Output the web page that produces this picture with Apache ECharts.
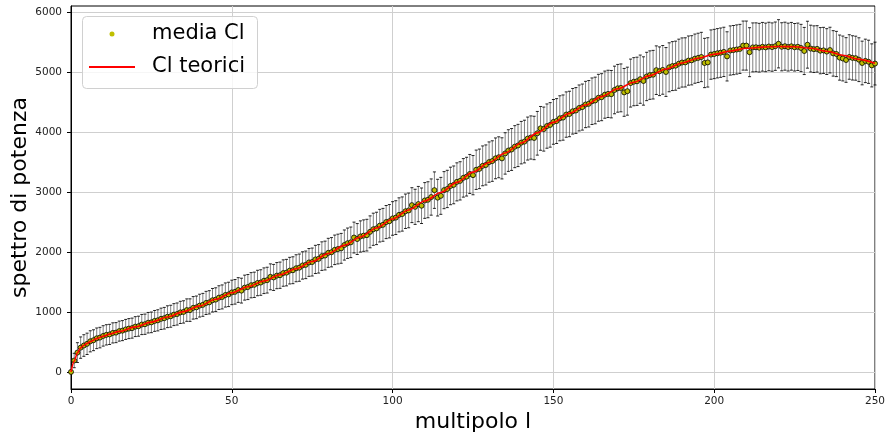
<!DOCTYPE html>
<html>
<head>
<meta charset="utf-8">
<script src="https://cdn.jsdelivr.net/npm/echarts@6/dist/echarts.min.js"></script>
<style>
  html, body { margin: 0; padding: 0; background: #fff; }
  #chart { width: 886px; height: 437px; }
</style>
</head>
<body>
<div id="chart"></div>
<script>
// Mean power spectrum per multipole l = 0..250
const clMean = [
  0, 190, 322, 405, 440, 468, 510, 528, 560, 572,
  600, 618, 625, 650, 655, 680, 688, 708, 722, 730,
  755, 762, 790, 795, 820, 826, 850, 860, 885, 895,
  920, 928, 955, 965, 992, 1000, 1030, 1030, 1068, 1076,
  1105, 1118, 1150, 1160, 1195, 1205, 1238, 1250, 1282, 1292,
  1325, 1335, 1365, 1355, 1405, 1415, 1445, 1452, 1482, 1490,
  1520, 1530, 1585, 1575, 1605, 1612, 1648, 1655, 1688, 1695,
  1728, 1738, 1775, 1785, 1825, 1832, 1875, 1885, 1930, 1940,
  1985, 1995, 2035, 2048, 2060, 2115, 2145, 2160, 2240, 2215,
  2258, 2272, 2280, 2335, 2378, 2392, 2438, 2452, 2498, 2512,
  2558, 2572, 2618, 2632, 2678, 2692, 2780, 2752, 2798, 2770,
  2858, 2870, 2915, 3030, 2905, 2935, 3030, 3050, 3100, 3118,
  3168, 3185, 3235, 3255, 3300, 3280, 3370, 3385, 3435, 3450,
  3498, 3515, 3560, 3578, 3560, 3642, 3690, 3708, 3755, 3775,
  3822, 3840, 3890, 3908, 3900, 3978, 4060, 4048, 4098, 4118,
  4168, 4182, 4228, 4240, 4290, 4300, 4345, 4358, 4400, 4415,
  4458, 4470, 4512, 4525, 4570, 4580, 4622, 4635, 4630, 4700,
  4728, 4735, 4660, 4680, 4815, 4838, 4845, 4880, 4850, 4925,
  4948, 4955, 5030, 5012, 5035, 5000, 5078, 5098, 5105, 5138,
  5158, 5160, 5190, 5195, 5222, 5235, 5250, 5150, 5160, 5290,
  5300, 5312, 5322, 5335, 5260, 5358, 5365, 5375, 5385, 5440,
  5440, 5330, 5410, 5412, 5405, 5420, 5410, 5425, 5415, 5430,
  5470, 5420, 5430, 5415, 5428, 5412, 5420, 5400, 5350, 5455,
  5390, 5380, 5385, 5355, 5360, 5340, 5365, 5310, 5300, 5240,
  5225, 5200, 5250, 5235, 5230, 5205, 5150, 5185, 5170, 5110,
  5140
];

// Standard deviation of the mean spectrum (error bar half-length)
const clSigma = [
  0, 120, 165, 178, 180, 178, 176, 174, 172, 171,
  170, 169, 168, 168, 167, 167, 167, 167, 167, 167,
  166, 167, 168, 169, 171, 172, 174, 176, 178, 180,
  182, 183, 183, 184, 185, 186, 187, 188, 188, 189,
  190, 191, 193, 194, 196, 197, 198, 200, 201, 203,
  204, 205, 206, 207, 208, 209, 210, 211, 212, 213,
  214, 215, 216, 217, 218, 219, 220, 221, 222, 224,
  225, 227, 228, 230, 232, 233, 235, 237, 238, 240,
  242, 244, 246, 248, 249, 251, 253, 255, 257, 258,
  260, 262, 264, 266, 268, 270, 272, 274, 276, 278,
  280, 282, 284, 285, 287, 289, 291, 293, 294, 296,
  298, 300, 302, 304, 306, 308, 309, 311, 313, 315,
  317, 319, 321, 323, 325, 327, 328, 330, 332, 334,
  336, 338, 340, 341, 343, 345, 347, 349, 350, 352,
  354, 356, 358, 360, 362, 364, 365, 367, 369, 371,
  373, 374, 375, 377, 378, 379, 380, 382, 383, 384,
  386, 387, 388, 389, 391, 392, 393, 394, 395, 397,
  398, 399, 399, 400, 400, 401, 402, 402, 403, 403,
  404, 405, 405, 406, 406, 407, 408, 408, 409, 409,
  410, 410, 410, 410, 410, 411, 411, 411, 411, 411,
  411, 411, 411, 411, 410, 410, 410, 410, 409, 409,
  409, 408, 408, 407, 406, 406, 405, 404, 403, 403,
  402, 401, 400, 399, 398, 396, 395, 394, 393, 391,
  390, 389, 387, 385, 384, 382, 381, 379, 377, 376,
  374, 372, 371, 369, 367, 365, 364, 362, 360, 359,
  357
];

// Theoretical spectrum, sampled at these multipoles
const theoryL = [
  0, 1, 2, 3, 4, 5, 6, 8, 10, 12, 15, 20, 25, 30, 35, 40, 45, 50, 55, 60,
  65, 70, 75, 80, 85, 90, 95, 100, 105, 110, 115, 120, 125, 130, 135, 140,
  145, 150, 155, 160, 165, 170, 175, 180, 185, 190, 195, 200, 205, 210,
  215, 220, 225, 230, 235, 240, 245, 250
];
const theoryCl = [
  0, 180, 320, 400, 445, 475, 505, 555, 595, 630, 675, 750, 830, 915, 1005, 1100, 1210, 1320, 1420, 1515,
  1620, 1720, 1840, 1975, 2110, 2250, 2400, 2550, 2700, 2850, 2990, 3160, 3330, 3490, 3650, 3815,
  3985, 4160, 4310, 4450, 4590, 4720, 4830, 4940, 5050, 5150, 5230, 5295, 5350, 5395,
  5415, 5425, 5420, 5395, 5345, 5280, 5210, 5145
];

const xTicks = [0, 50, 100, 150, 200, 250];
const yTicks = [0, 1000, 2000, 3000, 4000, 5000, 6000];

const FONT = 'DejaVu Sans';
const multipole = clMean.map((_, i) => i);

const meanPoints = multipole.map(l => [l, clMean[l]]);
const errorPoints = multipole.map(l => [l, clMean[l], clSigma[l]]);
const theoryPoints = theoryL.map((l, i) => [l, theoryCl[i]]);

function renderErrorBar(params, api) {
  const l = api.value(0);
  const m = api.value(1);
  const s = api.value(2);
  if (!s) return null;
  const top = api.coord([l, m + s]);
  const bot = api.coord([l, m - s]);
  const cw = 1.5;
  return {
    type: 'group',
    children: [
      { type: 'line', shape: { x1: top[0], y1: top[1], x2: bot[0], y2: bot[1] },
        style: { stroke: 'rgba(0,0,0,0.5)', lineWidth: 1 } },
      { type: 'line', shape: { x1: top[0] - cw, y1: top[1], x2: top[0] + cw, y2: top[1] },
        style: { stroke: 'rgba(0,0,0,0.85)', lineWidth: 1 } },
      { type: 'line', shape: { x1: bot[0] - cw, y1: bot[1], x2: bot[0] + cw, y2: bot[1] },
        style: { stroke: 'rgba(0,0,0,0.85)', lineWidth: 1 } }
    ]
  };
}

const chart = echarts.init(document.getElementById('chart'), null, { renderer: 'canvas' });

chart.setOption({
  animation: false,
  backgroundColor: '#fff',
  grid: {
    left: 71, right: 11, top: 6, bottom: 48,
    containLabel: false,
    outerBoundsMode: 'none',
    show: true, borderColor: '#000', borderWidth: 1, backgroundColor: 'transparent'
  },
  xAxis: {
    type: 'value',
    min: 0, max: 250, interval: 50,
    name: 'multipolo l',
    nameLocation: 'middle',
    nameGap: 22,
    nameMoveOverlap: false,
    nameTextStyle: { fontFamily: FONT, fontSize: 22, color: '#000' },
    axisLine: { show: true, onZero: false, lineStyle: { color: '#000', width: 1 } },
    axisTick: { show: true, inside: false, length: 4, lineStyle: { color: '#000', width: 1 }, customValues: xTicks },
    axisLabel: { fontFamily: FONT, fontSize: 10.5, color: '#222', margin: 7, customValues: xTicks,
      formatter: v => String(v) },
    splitLine: { show: true, lineStyle: { color: '#cfcfcf', width: 1 } }
  },
  yAxis: {
    type: 'value',
    min: -285, max: 6100,
    name: 'spettro di potenza',
    nameLocation: 'middle',
    nameGap: 40,
    nameMoveOverlap: false,
    nameTextStyle: { fontFamily: FONT, fontSize: 22, color: '#000' },
    axisLine: { show: true, onZero: false, lineStyle: { color: '#000', width: 1 } },
    axisTick: { show: true, inside: false, length: 4, lineStyle: { color: '#000', width: 1 }, customValues: yTicks },
    axisLabel: { fontFamily: FONT, fontSize: 10.5, color: '#222', margin: 9, customValues: yTicks,
      formatter: v => String(v) },
    splitLine: { show: true, lineStyle: { color: '#cfcfcf', width: 1 } }
  },
  series: [
    {
      name: 'errori',
      type: 'custom',
      renderItem: renderErrorBar,
      data: errorPoints,
      encode: { x: 0, y: 1 },
      z: 2,
      silent: true
    },
    {
      name: 'media Cl',
      type: 'scatter',
      data: meanPoints,
      symbol: 'circle',
      symbolSize: 5,
      itemStyle: { color: '#bfbf00', borderColor: '#000', borderWidth: 0.8, opacity: 1 },
      z: 3
    },
    {
      name: 'Cl teorici',
      type: 'line',
      data: theoryPoints,
      smooth: 0.3,
      smoothMonotone: 'x',
      showSymbol: false,
      symbol: 'none',
      lineStyle: { color: '#ff0000', width: 1.6 },
      z: 4
    }
  ],
  graphic: [
    {
      type: 'rect', z: 100,
      shape: { x: 82.5, y: 16.5, width: 175, height: 72, r: 4 },
      style: { fill: 'rgba(255,255,255,0.8)', stroke: '#d0d0d0', lineWidth: 1 }
    },
    {
      type: 'circle', z: 101,
      shape: { cx: 112, cy: 34, r: 2.5 },
      style: { fill: '#bfbf00' }
    },
    {
      type: 'line', z: 101,
      shape: { x1: 89, y1: 67, x2: 135, y2: 67 },
      style: { stroke: '#ff0000', lineWidth: 2 }
    },
    {
      type: 'text', z: 101, x: 152, y: 34,
      style: { text: 'media Cl', font: '21px "DejaVu Sans"', fill: '#000', verticalAlign: 'middle' }
    },
    {
      type: 'text', z: 101, x: 152, y: 67,
      style: { text: 'Cl teorici', font: '21px "DejaVu Sans"', fill: '#000', verticalAlign: 'middle' }
    }
  ]
});
</script>
</body>
</html>
